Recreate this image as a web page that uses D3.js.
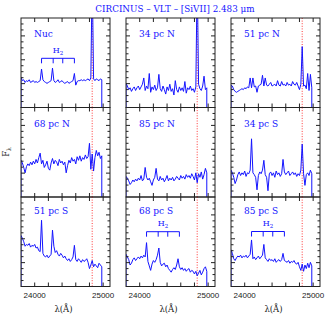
<!DOCTYPE html>
<html><head><meta charset="utf-8">
<script src="https://cdn.jsdelivr.net/npm/d3@7/dist/d3.min.js"></script>
<style>body{margin:0;background:#fff}</style>
</head><body>
<svg id="chart" width="327" height="327"></svg>
<script>
// wavelength grid (Angstrom) shared by all the spectra
const wavelengths = [23800,23820,23840,23860,23880,23900,23920,23940,23960,23980,
  24000,24020,24040,24060,24080,24100,24120,24140,24160,24180,
  24200,24220,24240,24260,24280,24300,24320,24340,24360,24380,
  24400,24420,24440,24460,24480,24500,24520,24540,24560,24580,
  24600,24620,24640,24660,24680,24700,24720,24740,24760,24780,
  24800,24820,24840,24860,24880,24900,24920,24940,24960,24980];

// normalised F_lambda (0 = bottom of frame, 1 = top)
const fluxNuc = [0.34,0.30,0.31,0.28,0.30,0.29,0.31,0.28,0.29,0.30,
  0.28,0.29,0.28,0.29,0.30,0.43,0.31,0.29,0.28,0.27,
  0.28,0.29,0.30,0.44,0.30,0.28,0.29,0.31,0.28,0.29,
  0.30,0.28,0.27,0.28,0.29,0.27,0.28,0.29,0.30,0.38,
  0.25,0.29,0.30,0.30,0.31,0.30,0.31,0.30,0.31,0.32,
  0.30,0.33,1.50,0.32,0.30,0.32,0.31,0.30,0.32,0.31];
const flux34N = [0.27,0.24,0.20,0.22,0.18,0.21,0.23,0.19,0.22,0.24,
  0.20,0.23,0.26,0.33,0.19,0.24,0.21,0.38,0.17,0.23,
  0.20,0.25,0.19,0.22,0.37,0.21,0.18,0.24,0.20,0.15,
  0.23,0.19,0.26,0.18,0.21,0.14,0.30,0.20,0.17,0.23,
  0.19,0.22,0.18,0.29,0.16,0.22,0.20,0.24,0.19,0.21,
  0.17,0.23,1.50,0.26,0.21,0.19,0.24,0.35,0.20,0.22];
const flux51N = [0.25,0.24,0.20,0.18,0.17,0.18,0.19,0.20,0.21,0.20,
  0.22,0.21,0.23,0.22,0.33,0.22,0.33,0.23,0.24,0.17,
  0.24,0.25,0.26,0.36,0.24,0.33,0.25,0.24,0.26,0.28,
  0.24,0.25,0.26,0.24,0.30,0.25,0.24,0.29,0.25,0.26,
  0.24,0.28,0.25,0.26,0.24,0.29,0.26,0.25,0.28,0.24,
  0.20,0.26,0.68,0.24,0.25,0.21,0.38,0.19,0.37,0.22];
const flux68N = [0.41,0.38,0.33,0.27,0.34,0.37,0.35,0.39,0.36,0.40,
  0.37,0.42,0.38,0.44,0.49,0.37,0.41,0.33,0.36,0.40,
  0.32,0.30,0.38,0.43,0.37,0.41,0.39,0.35,0.42,0.38,
  0.40,0.36,0.39,0.27,0.35,0.41,0.38,0.44,0.40,0.42,
  0.37,0.45,0.41,0.46,0.40,0.44,0.42,0.47,0.43,0.45,
  0.60,0.31,0.48,0.29,0.44,0.52,0.46,0.50,0.43,0.46];
const flux85N = [0.23,0.21,0.18,0.14,0.16,0.19,0.17,0.20,0.18,0.21,
  0.19,0.24,0.18,0.20,0.33,0.22,0.19,0.21,0.17,0.13,
  0.19,0.22,0.32,0.20,0.18,0.23,0.19,0.21,0.17,0.20,
  0.24,0.18,0.21,0.19,0.22,0.18,0.20,0.23,0.21,0.19,
  0.24,0.21,0.23,0.20,0.25,0.22,0.24,0.21,0.26,0.23,
  0.19,0.27,0.16,0.26,0.22,0.28,0.20,0.25,0.32,0.27];
const flux34S = [0.30,0.27,0.22,0.15,0.19,0.25,0.28,0.24,0.27,0.25,
  0.29,0.23,0.27,0.26,0.30,0.65,0.27,0.25,0.22,0.08,
  0.24,0.28,0.26,0.30,0.41,0.25,0.22,0.07,0.26,0.28,
  0.24,0.27,0.22,0.29,0.25,0.27,0.23,0.26,0.42,0.28,
  0.25,0.27,0.29,0.24,0.26,0.28,0.25,0.27,0.23,0.26,
  0.24,0.30,0.59,0.26,0.13,0.25,0.27,0.24,0.30,0.26];
const flux51S = [0.57,0.54,0.50,0.45,0.47,0.46,0.48,0.44,0.46,0.45,
  0.47,0.43,0.44,0.40,0.39,0.74,0.37,0.34,0.33,0.35,
  0.32,0.34,0.36,0.63,0.45,0.38,0.40,0.36,0.34,0.37,
  0.35,0.32,0.34,0.31,0.29,0.31,0.28,0.30,0.33,0.46,
  0.30,0.28,0.31,0.29,0.27,0.30,0.28,0.29,0.31,0.27,
  0.20,0.24,0.29,0.22,0.25,0.23,0.21,0.26,0.24,0.22];
const flux68S = [0.36,0.33,0.30,0.24,0.26,0.30,0.32,0.29,0.31,0.33,
  0.31,0.34,0.32,0.35,0.33,0.49,0.28,0.23,0.18,0.25,
  0.29,0.27,0.30,0.35,0.43,0.27,0.23,0.25,0.26,0.22,
  0.24,0.20,0.18,0.16,0.19,0.21,0.19,0.24,0.31,0.22,
  0.19,0.21,0.18,0.20,0.17,0.19,0.20,0.16,0.18,0.17,
  0.14,0.17,0.12,0.15,0.18,0.13,0.16,0.20,0.22,0.17];
const flux85S = [0.41,0.37,0.31,0.29,0.32,0.34,0.33,0.35,0.32,0.34,
  0.33,0.35,0.32,0.34,0.36,0.52,0.31,0.33,0.30,0.32,
  0.34,0.31,0.33,0.35,0.47,0.32,0.30,0.28,0.31,0.29,
  0.30,0.28,0.31,0.27,0.29,0.30,0.28,0.30,0.37,0.29,
  0.28,0.27,0.29,0.26,0.28,0.27,0.29,0.26,0.25,0.27,
  0.22,0.18,0.25,0.17,0.24,0.20,0.26,0.21,0.27,0.23];

const panelNames = ["Nuc", "34 pc N", "51 pc N", "68 pc N", "85 pc N", "34 pc S", "51 pc S", "68 pc S", "85 pc S"];
const panelFlux = [fluxNuc, flux34N, flux51N, flux68N, flux85N, flux34S, flux51S, flux68S, flux85S];

const h2Panels = ["Nuc", "68 pc S", "85 pc S"];
const h2Lines = [24100, 24270, 24410, 24580];
const siviiLine = 24840;
const xTicks = [24000, 24200, 24400, 24600, 24800, 25000];
const xTickLabels = [24000, 25000];
const titleText = "CIRCINUS \u2013 VLT \u2013 [SiVII] 2.483 \u03bcm";

const svg = d3.select("#chart");
const blue = "#1414ff";

let colLeft = [21, 126, 231];
let rowTop = [18, 107.5, 197];
let panelW = 89, panelH = 89.5;

let x = d3.scaleLinear().domain([23800, 25100]).range([0, panelW]);
let y = d3.scaleLinear().domain([0, 1]).range([panelH, 0]);
let yTicks = d3.range(1, 15).map(k => k / 15);
let h2Offset = {"Nuc": 40.3, "68 pc S": 34.7, "85 pc S": 34.5};

let line = d3.line().x(d => x(d[0])).y(d => y(d[1]));

svg.append("text")
    .attr("x", 175)
    .attr("y", 11.5)
    .attr("text-anchor", "middle")
    .attr("font-family", "DejaVu Serif")
    .attr("font-size", 8.8)
    .attr("fill", blue)
    .text(titleText);

panelNames.forEach((name, i) => {
    let col = i % 3, row = Math.floor(i / 3);
    let g = svg.append("g").attr("transform", `translate(${colLeft[col]},${rowTop[row]})`);

    g.append("clipPath").attr("id", "clip" + i)
        .append("rect").attr("width", panelW).attr("height", panelH);

    // red dotted [SiVII] marker
    g.append("line")
        .attr("x1", x(siviiLine)).attr("x2", x(siviiLine))
        .attr("y1", 0).attr("y2", panelH)
        .attr("stroke", "#ff2020")
        .attr("stroke-width", 0.9)
        .attr("stroke-dasharray", "1 1.6");

    // spectrum, dropping to zero at both ends
    let pts = wavelengths.map((w, k) => [w, panelFlux[i][k]]);
    pts.unshift([wavelengths[0], 0]);
    pts.push([wavelengths[wavelengths.length - 1], -0.05]);
    g.append("path")
        .attr("d", line(pts))
        .attr("clip-path", `url(#clip${i})`)
        .attr("fill", "none")
        .attr("stroke", blue)
        .attr("stroke-width", 1);

    // frame and ticks
    g.append("rect")
        .attr("width", panelW).attr("height", panelH)
        .attr("fill", "none").attr("stroke", "#222").attr("stroke-width", 1);
    for (let t of xTicks) {
        g.append("line").attr("x1", x(t)).attr("x2", x(t)).attr("y1", panelH).attr("y2", panelH - 4)
            .attr("stroke", "#222");
        g.append("line").attr("x1", x(t)).attr("x2", x(t)).attr("y1", 0).attr("y2", 4)
            .attr("stroke", "#222");
    }
    yTicks.forEach((t, k) => {
        let len = (k % 4 == 3) ? 4 : 2.5;
        g.append("line").attr("x1", 0).attr("x2", len).attr("y1", y(t)).attr("y2", y(t)).attr("stroke", "#222");
        g.append("line").attr("x1", panelW).attr("x2", panelW - len).attr("y1", y(t)).attr("y2", y(t)).attr("stroke", "#222");
    });

    g.append("text")
        .attr("x", 13)
        .attr("y", row == 2 ? 17 : 19)
        .attr("font-family", "DejaVu Serif")
        .attr("font-size", 9)
        .attr("fill", blue)
        .attr("xml:space", "preserve")
        .text(name);

    if (h2Panels.includes(name)) {
        let by = h2Offset[name];
        g.append("line")
            .attr("x1", x(h2Lines[0])).attr("x2", x(h2Lines[h2Lines.length - 1]))
            .attr("y1", by).attr("y2", by)
            .attr("stroke", blue).attr("stroke-width", 1);
        for (let h of h2Lines) {
            g.append("line").attr("x1", x(h)).attr("x2", x(h)).attr("y1", by).attr("y2", by + 5)
                .attr("stroke", blue).attr("stroke-width", 1);
        }
        let lab = g.append("text")
            .attr("x", (x(h2Lines[0]) + x(h2Lines[h2Lines.length - 1])) / 2)
            .attr("y", by - 5.5)
            .attr("text-anchor", "middle")
            .attr("font-family", "DejaVu Serif")
            .attr("font-size", 8)
            .attr("fill", blue);
        lab.append("tspan").text("H");
        lab.append("tspan").attr("font-size", 5.5).attr("dy", 1.8).text("2");
    }

    if (row == 2) {
        for (let t of xTickLabels) {
            g.append("text")
                .attr("x", x(t)).attr("y", panelH + 11)
                .attr("text-anchor", "middle")
                .attr("font-family", "Liberation Sans")
                .attr("font-size", 8)
                .attr("fill", "#222")
                .text(t);
        }
        g.append("text")
            .attr("x", panelW / 2 - 2).attr("y", panelH + 25.5)
            .attr("text-anchor", "middle")
            .attr("font-family", "DejaVu Serif")
            .attr("font-size", 8.5)
            .attr("fill", "#222")
            .text("\u03bb(\u00c5)");
    }
});

// y axis label
let yl = svg.append("text")
    .attr("transform", "translate(9,152) rotate(-90)")
    .attr("text-anchor", "middle")
    .attr("font-family", "DejaVu Serif")
    .attr("font-size", 8.5)
    .attr("fill", "#222");
yl.append("tspan").text("F");
yl.append("tspan").attr("font-size", 6).attr("dy", 2).text("\u03bb");
</script>
</body></html>
